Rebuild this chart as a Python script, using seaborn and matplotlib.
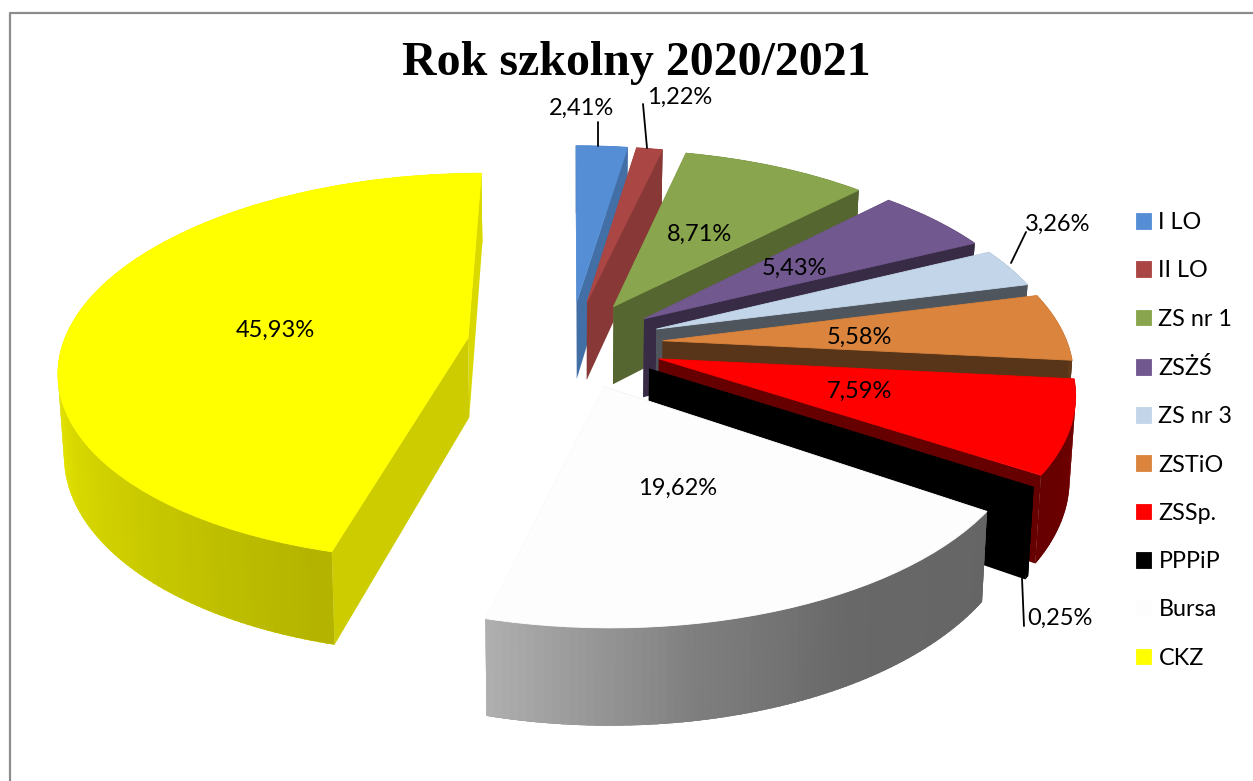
import numpy as np
import matplotlib
matplotlib.use("Agg")
import matplotlib.pyplot as plt
from matplotlib.transforms import Transform
import seaborn as sns

categories = ["I LO", "II LO", "ZS nr 1", "ZSŻŚ", "ZS nr 3", "ZSTiO", "ZSSp.", "PPPiP", "Bursa", "CKZ"]
shares = [2.41, 1.22, 8.71, 5.43, 3.26, 5.58, 7.59, 0.25, 19.62, 45.93]
share_labels = ["2,41%", "1,22%", "8,71%", "5,43%", "3,26%", "5,58%", "7,59%", "0,25%", "19,62%", "45,93%"]
colors = ["#558ED5", "#AA4644", "#89A54E", "#71588F", "#C3D5E9", "#DB843D", "#FF0000", "#000000", "#FDFDFD", "#FFFF00"]
title_text = "Rok szkolny 2020/2021"

EXPLODE = [0.23, 0.23, 0.23, 0.23, 0.23, 0.23, 0.23, 0.23, 0.23, 0.255]
CX, CY, RX, RY, K, DEPTH, SHRINK = 570.0, 344.0, 405.0, 191.0, 0.15, 80.0, 0.988


def project(u, v, z=0.0):
    u, v = np.asarray(u, float), np.asarray(v, float)
    s = 1.0 / (1.0 + K * v)
    x = CX + RX * u * s * (1 - (1 - SHRINK) * z)
    y = CY - RY * v * s + DEPTH * s * z
    return x, y


class PiePlane(Transform):
    input_dims = output_dims = 2
    is_separable = False
    has_inverse = False

    def transform_non_affine(self, values):
        x, y = project(values[:, 0], values[:, 1])
        return np.column_stack([x, y])


sns.set_theme(style="white", palette=sns.color_palette(colors))
plt.rcParams["font.family"] = ["Lato", "DejaVu Sans"]

fig = plt.figure(figsize=(12.53, 7.81), dpi=100)
ax = fig.add_axes([0, 0, 1, 1])

wedges, _ = ax.pie(shares, colors=colors, startangle=90, counterclock=False,
                   explode=EXPLODE, radius=1.0,
                   wedgeprops={"linewidth": 0.6})
for w in wedges:
    w.set_edgecolor(w.get_facecolor())
ax.set_aspect("auto")
ax.set_xlim(0, 1253)
ax.set_ylim(781, 0)
ax.axis("off")

plane = PiePlane()
fractions = np.array(shares) / sum(shares)
ends = np.cumsum(fractions) * 360.0
starts = ends - fractions * 360.0
mids = (starts + ends) / 2


def shade(color, f):
    r = np.array(matplotlib.colors.to_rgb(color)) * f
    return tuple(np.clip(r, 0, 1))


def outer_f(theta):
    return np.interp(theta, [0, 60, 124, 150, 170, 195, 270, 360],
                     [0.8, 0.5, 0.40, 0.41, 0.5, 0.7, 0.93, 0.9])


def cut_f(theta):
    return np.interp(theta, [8, 13, 44, 63, 75, 95, 124, 195, 360],
                     [0.78, 0.8, 0.62, 0.5, 0.4, 0.4, 0.4, 0.8, 0.85])


order = np.argsort(-np.cos(np.radians(mids)))
for z, i in enumerate(order):
    base = 10 + z * 10
    c = colors[i]
    a0, a1, m = starts[i], ends[i], mids[i]
    e = EXPLODE[i]
    au, av = e * np.sin(np.radians(m)), e * np.cos(np.radians(m))
    faces = []
    for a in (a0, a1):
        eu = au + np.sin(np.radians(a))
        ev = av + np.cos(np.radians(a))
        xt, yt = project([au, eu], [av, ev], 0)
        xb, yb = project([eu, au], [ev, av], 1)
        faces.append(((av + ev) / 2, np.r_[xt, xb], np.r_[yt, yb], shade(c, cut_f(a))))
    # whole outer wall first, so that edge-on strips do not let the paper through
    th_all = np.radians(np.linspace(a0, a1, 200))
    ua, va = au + np.sin(th_all), av + np.cos(th_all)
    xt, yt = project(ua, va, 0)
    xb, yb = project(ua[::-1], va[::-1], 1)
    faces.append((10.0, np.r_[xt, xb], np.r_[yt, yb], shade(c, outer_f(m))))
    n = max(2, int((a1 - a0) / 1.0))
    edges = np.linspace(a0, a1, n + 1)
    step = edges[1] - edges[0]
    for b0, b1 in zip(edges[:-1], edges[1:]):
        th = np.radians([b0 - 0.15 * step, (b0 + b1) / 2, b1 + 0.15 * step])
        th = np.clip(th, np.radians(a0), np.radians(a1))
        uu = au + np.sin(th)
        vv = av + np.cos(th)
        xt, yt = project(uu, vv, 0)
        xb, yb = project(uu[::-1], vv[::-1], 1)
        faces.append((vv.mean(), np.r_[xt, xb], np.r_[yt, yb], shade(c, outer_f((b0 + b1) / 2))))
    faces.sort(key=lambda f: -f[0])
    for k, (_, xs, ys, fc) in enumerate(faces):
        ax.fill(xs, ys, facecolor=fc, edgecolor="none", lw=0, zorder=base + k * 0.01)
    w = wedges[i]
    w.set_transform(plane + ax.transData)
    w.set_clip_on(False)
    w.set_zorder(base + 5)

text_kw = dict(ha="center", va="center", fontsize=17, color="black", zorder=300)
label_xy = [(581, 108), (680, 97), (699, 234), (794, 268), (1058, 224),
            (859, 337), (859, 391), (1060, 618), (678, 488), (275, 330)]
for lab, (x, y) in zip(share_labels, label_xy):
    ax.text(x, y, lab, **text_kw)

leaders = [([598, 598], [122, 146]), ([643, 647], [104, 148]),
           ([1026, 1011], [232, 263]), ([1022, 1024], [578, 626])]
for xs, ys in leaders:
    ax.plot(xs, ys, color="black", lw=1.3, zorder=290)

ax.text(636, 63, title_text, ha="center", va="center", fontsize=34.5,
        fontweight="bold", family=["Liberation Serif"], color="black", zorder=300)

ax.plot([9.5, 9.5, 1253], [781, 12.5, 12.5], color="#8C8C8C", lw=1.6, zorder=1)

leg = ax.legend(wedges, categories, loc="upper left", bbox_to_anchor=(1136 / 1253, 1 - 212 / 781),
                frameon=False, fontsize=16.8, handlelength=0.66, handleheight=0.66,
                handletextpad=0.3, labelspacing=1.17, borderpad=0, borderaxespad=0)
for t in leg.get_texts():
    t.set_color("black")

fig.savefig("out.png", dpi=100)
